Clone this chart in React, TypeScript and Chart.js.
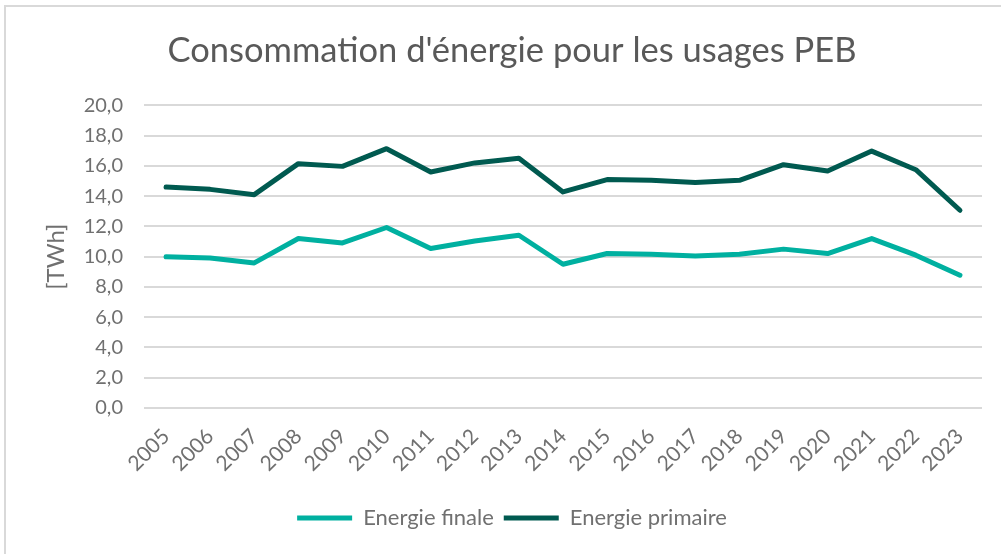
import React, { useEffect, useRef } from "react";
import { Chart, registerables } from "chart.js";

Chart.register(...registerables);

const years = ["2005","2006","2007","2008","2009","2010","2011","2012","2013","2014","2015","2016","2017","2018","2019","2020","2021","2022","2023"];
const energieFinale = [9.99, 9.92, 9.59, 11.2, 10.91, 11.93, 10.54, 11.04, 11.42, 9.5, 10.21, 10.16, 10.05, 10.16, 10.5, 10.21, 11.2, 10.1, 8.78];
const energiePrimaire = [14.6, 14.45, 14.1, 16.15, 15.97, 17.14, 15.6, 16.2, 16.5, 14.28, 15.1, 15.05, 14.9, 15.05, 16.08, 15.66, 16.98, 15.75, 13.07];
const chartTitle = "Consommation d'énergie pour les usages PEB";
const yAxisTitle = "[TWh]";
const seriesNames = ["Energie finale", "Energie primaire"];

const FONT = "Lato, 'Open Sans', sans-serif";
const TEXT = "#707070";

export default function App() {
  const ref = useRef<HTMLCanvasElement | null>(null);
  useEffect(() => {
    if (!ref.current) return;
    const chart = new Chart(ref.current, {
      type: "line",
      data: {
        labels: years,
        datasets: [
          {
            label: seriesNames[0],
            data: energieFinale,
            borderColor: "#00B0A0",
            backgroundColor: "#00B0A0",
            borderWidth: 5,
            pointRadius: 0,
            borderCapStyle: "round",
            borderJoinStyle: "round",
            tension: 0,
          },
          {
            label: seriesNames[1],
            data: energiePrimaire,
            borderColor: "#005A50",
            backgroundColor: "#005A50",
            borderWidth: 5,
            pointRadius: 0,
            borderCapStyle: "round",
            borderJoinStyle: "round",
            tension: 0,
          },
        ],
      },
      options: {
        animation: false,
        responsive: false,
        layout: { padding: { left: 42, right: 19, top: 30, bottom: 15 } },
        plugins: {
          title: {
            display: true,
            text: chartTitle,
            color: "#595959",
            font: { family: FONT, size: 34.5, weight: "normal" },
            padding: { top: 0, bottom: 34 },
          },
          legend: {
            position: "bottom",
            labels: {
              usePointStyle: true,
              pointStyle: "line",
              pointStyleWidth: 55,
              color: TEXT,
              font: { family: FONT, size: 22 },
              padding: 10,
            },
          },
          tooltip: { enabled: false },
        },
        scales: {
          x: {
            offset: true,
            grid: { display: false, drawTicks: false },
            border: { display: false },
            afterFit: (s: any) => { s.height = 89; },
            ticks: {
              color: TEXT,
              font: { family: FONT, size: 21 },
              maxRotation: 45,
              minRotation: 45,
              padding: 16,
              autoSkip: false,
            },
          },
          y: {
            min: 0,
            max: 20,
            afterFit: (s: any) => { s.width = 102; },
            grid: { color: "#d9d9d9", lineWidth: 2, drawTicks: false },
            border: { display: false },
            title: {
              display: true,
              text: yAxisTitle,
              color: TEXT,
              font: { family: FONT, size: 24 },
              padding: { top: 0, bottom: 0 },
            },
            ticks: {
              stepSize: 2,
              color: TEXT,
              font: { family: FONT, size: 20 },
              padding: 21,
              callback: (v: any) => Number(v).toFixed(1).replace(".", ","),
            },
          },
        },
      },
    });
    return () => chart.destroy();
  }, []);
  return (
    <div style={{ position: "fixed", left: 0, top: 0, width: 1001, height: 554, overflow: "hidden", background: "#fff" }}>
      <div style={{ position: "absolute", left: 4, top: 5, width: 1040, height: 600, border: "2px solid #d9d9d9", boxSizing: "border-box" }} />
      <canvas ref={ref} width={1001} height={554} style={{ position: "absolute", left: 0, top: 0, display: "block" }} />
    </div>
  );
}
